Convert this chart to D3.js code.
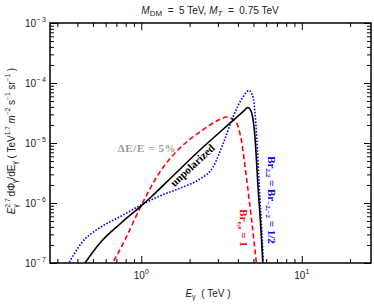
<!DOCTYPE html>
<html>
  <head>
    <meta charset='UTF-8'/>
    <script src="https://cdn.jsdelivr.net/npm/d3@7"></script>
    <style>
      body { margin : 0; background : white; }
      .lab { font-family : "Liberation Sans", Arial, sans-serif; font-size : 10px; fill : #222; }
      .ann { font-family : "Liberation Serif", "DejaVu Serif", serif; font-weight : bold; font-size : 11px; }
    </style>
  </head>
  <body>
    <svg id='fig' width='374' height='305'></svg>
    <script>
      // photon energy (TeV) and E^2.7 dPhi/dE
      const blackE = [0.446, 0.553, 0.737, 0.996, 1.133, 1.62, 2.32, 3.47, 4.36, 4.62, 4.83, 5.11, 5.34, 5.57, 5.77]
      const blackF = [1.0e-7, 2.15e-7, 4.47e-7, 8.9e-7, 1.21e-6, 3.04e-6, 7.64e-6, 2.0e-5, 3.42e-5, 3.91e-5, 3.42e-5, 1.26e-5, 1.85e-6, 3.55e-7, 6.3e-8]

      const redE = [0.638, 0.791, 0.996, 1.307, 1.742, 2.32, 2.88, 3.42, 3.89, 4.22, 4.54, 4.87, 5.27]
      const redF = [8.3e-8, 2.42e-7, 8.9e-7, 3.29e-6, 8.25e-6, 1.53e-5, 2.24e-5, 2.71e-5, 2.24e-5, 1.04e-5, 2.42e-6, 5.21e-7, 7.6e-8]

      const blueE = [0.34, 0.427, 0.553, 0.737, 0.996, 1.307, 1.82, 2.32, 2.80, 3.23, 3.73, 4.30, 4.69, 4.97, 5.24, 5.44, 5.63, 5.81]
      const blueF = [8.3e-8, 2.2e-7, 3.9e-7, 5.9e-7, 9.26e-7, 1.31e-6, 1.85e-6, 2.51e-6, 3.98e-6, 9.62e-6, 2.71e-5, 5.84e-5, 7.5e-5, 5.84e-5, 1.26e-5, 1.85e-6, 3.55e-7, 7.1e-8]

      const xMajor = [1, 10]
      const xMajorExp = ["0", "1"]
      const yMajor = [1e-7, 1e-6, 1e-5, 1e-4, 1e-3]
      const yMajorExp = ["7", "6", "5", "4", "3"]

      const L = 50, R = 371, T = 23, B = 263
      var svg = d3.select("#fig")

      var x = d3.scaleLog().domain([0.27, 27]).range([L, R])
      var y = d3.scaleLog().domain([1e-7, 1e-3]).range([B, T])

      // minor tick values
      var xMinor = [], yMinor = []
      for (let d = 0.1; d < 100; d *= 10)
	  for (let k = 2; k <= 9; k++) {
	      let v = d*k
	      if (v > 0.27 && v < 27) xMinor.push(v)
	  }
      for (let d = 1e-7; d < 1e-3; d *= 10)
	  for (let k = 2; k <= 9; k++) yMinor.push(d*k)

      svg.append("defs").append("clipPath").attr("id", "clip")
	  .append("rect").attr("x", L).attr("y", T).attr("width", R-L).attr("height", B-T)

      function ticks(axis, vals, size, tr) {
	  svg.append("g").attr("transform", tr)
	      .call(axis.tickValues(vals).tickSize(size).tickFormat(""))
	      .call(g => g.select(".domain").remove())
	      .selectAll("line").attr("stroke", "#000").attr("stroke-width", 1)
      }
      ticks(d3.axisBottom(x), xMajor, -7, `translate(0,${B})`)
      ticks(d3.axisBottom(x), xMinor, -4, `translate(0,${B})`)
      ticks(d3.axisTop(x), xMajor, -7, `translate(0,${T})`)
      ticks(d3.axisTop(x), xMinor, -4, `translate(0,${T})`)
      ticks(d3.axisLeft(y), yMajor, -7, `translate(${L},0)`)
      ticks(d3.axisLeft(y), yMinor, -4, `translate(${L},0)`)
      ticks(d3.axisRight(y), yMajor, -7, `translate(${R},0)`)
      ticks(d3.axisRight(y), yMinor, -4, `translate(${R},0)`)

      svg.append("rect").attr("x", L).attr("y", T).attr("width", R-L).attr("height", B-T)
	  .attr("fill", "none").attr("stroke", "#000").attr("stroke-width", 1.5)

      // tick labels
      xMajor.forEach((v, i) => {
	  let t = svg.append("text").attr("class", "lab").attr("x", x(v)).attr("y", 279)
	      .attr("text-anchor", "middle")
	  t.append("tspan").text("10")
	  t.append("tspan").attr("dy", -5).attr("font-size", "7px").text(xMajorExp[i])
      })
      yMajor.forEach((v, i) => {
	  let t = svg.append("text").attr("class", "lab").attr("x", 46).attr("y", y(v) + 4)
	      .attr("text-anchor", "end")
	  t.append("tspan").text("10")
	  t.append("tspan").attr("dy", -5).attr("font-size", "7px").text("\u2212 " + yMajorExp[i])
      })

      // title
      var ti = svg.append("text").attr("class", "lab").attr("x", 210).attr("y", 14)
	  .attr("text-anchor", "middle").attr("font-size", "11px").attr("xml:space", "preserve")
      ti.append("tspan").attr("font-style", "italic").text("M")
      ti.append("tspan").attr("dy", 2).attr("font-size", "8px").text("DM")
      ti.append("tspan").attr("dy", -2).text("  =  5 TeV, ")
      ti.append("tspan").attr("font-style", "italic").text("M")
      ti.append("tspan").attr("dy", 2).attr("font-size", "8px").attr("font-style", "italic").text("T")
      ti.append("tspan").attr("dy", -2).text("  =  0.75 TeV")

      // x label
      var xl = svg.append("text").attr("class", "lab").attr("x", 208).attr("y", 297)
	  .attr("text-anchor", "middle").attr("xml:space", "preserve")
      xl.append("tspan").attr("font-style", "italic").text("E")
      xl.append("tspan").attr("dy", 2).attr("font-size", "7px").text("\u03b3")
      xl.append("tspan").attr("dy", -2).text("  ( TeV )")

      // y label
      var yl = svg.append("text").attr("class", "lab").attr("font-size", "9.5px")
	  .attr("transform", "translate(15,141) rotate(-90)").attr("text-anchor", "middle")
      yl.append("tspan").attr("font-style", "italic").text("E")
      yl.append("tspan").attr("dy", -5).attr("font-size", "6.5px").text("2.7")
      yl.append("tspan").attr("dx", -9).attr("dy", 8).attr("font-size", "6.5px").text("\u03b3")
      yl.append("tspan").attr("dx", 5).attr("dy", -3).text(" d\u03a6")
      yl.append("tspan").attr("dy", 2).attr("font-size", "6.5px").text("\u03b3")
      yl.append("tspan").attr("dy", -2).text("/dE")
      yl.append("tspan").attr("dy", 2).attr("font-size", "6.5px").text("\u03b3")
      yl.append("tspan").attr("dy", -2).text("  ( TeV")
      yl.append("tspan").attr("dy", -5).attr("font-size", "6.5px").text("1.7")
      yl.append("tspan").attr("dy", 5).attr("font-style", "italic").text("  m")
      yl.append("tspan").attr("dy", -5).attr("font-size", "6.5px").text("\u22122")
      yl.append("tspan").attr("dy", 5).text(" s")
      yl.append("tspan").attr("dy", -5).attr("font-size", "6.5px").text("\u22121")
      yl.append("tspan").attr("dy", 5).text(" sr")
      yl.append("tspan").attr("dy", -5).attr("font-size", "6.5px").text("\u22121")
      yl.append("tspan").attr("dy", 5).text(" )")

      // curves
      var line = d3.line().x(d => x(d[0])).y(d => y(d[1])).curve(d3.curveMonotoneX)
      var curves = svg.append("g").attr("clip-path", "url(#clip)")
      function draw(E, F, color, dash) {
	  curves.append("path").datum(d3.zip(E, F)).attr("d", line)
	      .attr("fill", "none").attr("stroke", color).attr("stroke-width", 1.6)
	      .attr("stroke-dasharray", dash)
      }
      draw(redE, redF, "#ff0000", "5,3")
      draw(blueE, blueF, "#0000ff", "1.6,1.6")
      draw(blackE, blackF, "#000", null)

      // annotations
      svg.append("text").attr("class", "ann").attr("x", 147).attr("y", 152)
	  .attr("text-anchor", "middle").attr("fill", "#999").attr("font-size", "13px")
	  .attr("letter-spacing", "0.6px").text("\u0394E/E = 5%")
      svg.append("text").attr("class", "ann").attr("transform", "translate(195,168) rotate(-43)")
	  .attr("text-anchor", "middle").attr("fill", "#000").text("unpolarized")
      var tr = svg.append("text").attr("class", "ann").attr("transform", "translate(240,228) rotate(90)")
	  .attr("text-anchor", "middle").attr("fill", "#ff0000")
      tr.append("tspan").text("Br")
      tr.append("tspan").attr("dy", 2).attr("font-size", "7px").text("e,e")
      tr.append("tspan").attr("dy", -2).text(" = 1")
      var tb = svg.append("text").attr("class", "ann").attr("transform", "translate(268,200) rotate(90)")
	  .attr("text-anchor", "middle").attr("fill", "#0000ff")
      tb.append("tspan").text("Br")
      tb.append("tspan").attr("dy", 2).attr("font-size", "7px").text("2,2")
      tb.append("tspan").attr("dy", -2).text(" = Br")
      tb.append("tspan").attr("dy", 2).attr("font-size", "7px").text("\u22122,\u22122")
      tb.append("tspan").attr("dy", -2).text(" = 1/2")
    </script>
  </body>
</html>
